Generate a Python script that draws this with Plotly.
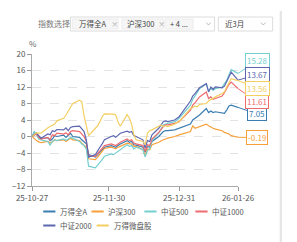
import plotly.graph_objects as go

# ---------------- data ----------------
dates = [
    "2025-10-27", "2025-10-28", "2025-10-29", "2025-10-30", "2025-10-31",
    "2025-11-03", "2025-11-04", "2025-11-05", "2025-11-06", "2025-11-07",
    "2025-11-10", "2025-11-11", "2025-11-12", "2025-11-13", "2025-11-14",
    "2025-11-17", "2025-11-18", "2025-11-19", "2025-11-20", "2025-11-21",
    "2025-11-24", "2025-11-25", "2025-11-26", "2025-11-27", "2025-11-28",
    "2025-12-01", "2025-12-02", "2025-12-03", "2025-12-04", "2025-12-05",
    "2025-12-08", "2025-12-09", "2025-12-10", "2025-12-11", "2025-12-12",
    "2025-12-15", "2025-12-16", "2025-12-17", "2025-12-18", "2025-12-19",
    "2025-12-22", "2025-12-23", "2025-12-24", "2025-12-25", "2025-12-26",
    "2025-12-29", "2025-12-30", "2025-12-31",
    "2026-01-05", "2026-01-06", "2026-01-07", "2026-01-08", "2026-01-09",
    "2026-01-12", "2026-01-13", "2026-01-14", "2026-01-15", "2026-01-16",
    "2026-01-19", "2026-01-20", "2026-01-21", "2026-01-22", "2026-01-23",
    "2026-01-26",
]

wind_all_a = [
    0, 0.3, 0.8, -0.2, -0.5,
    -0.3, -1.0, -0.6, 0.2, 0.0,
    0.3, -0.2, 0.2, 0.8, 0.0,
    -0.2, -0.8, -1.3, -1.8, -4.4,
    -5.0, -4.4, -3.8, -3.2, -2.6,
    -2.2, -2.4, -2.6, -2.2, -1.8,
    -1.0, -1.4, -1.2, -2.0, -2.1,
    -2.6, -3.8, -2.4, -2.6, -1.2,
    0.0, 0.6, 1.2, 1.4, 1.4,
    1.6, 1.8, 2.0,
    3.0, 4.0, 4.4, 4.6, 5.2,
    6.8, 5.8, 6.2, 5.8, 6.0,
    5.6, 5.6, 6.4, 7.4, 7.6,
    7.05,
]

hs300 = [
    0, -0.6, -1.0, -1.3, -1.5,
    -1.2, -1.6, -1.3, -0.8, -1.0,
    -0.8, -1.2, -0.9, -0.4, -0.8,
    -1.0, -1.6, -2.0, -2.6, -5.4,
    -5.6, -5.0, -4.4, -3.6, -2.9,
    -2.6, -2.8, -3.0, -2.6, -2.4,
    -1.6, -1.8, -1.8, -2.4, -2.4,
    -3.2, -4.6, -3.0, -3.2, -2.0,
    -1.4, -1.0, -0.8, -0.6, -0.4,
    0.0, 0.2, 0.4,
    1.2, 2.6, 2.0, 2.2, 2.4,
    3.0, 2.6, 2.2, 2.0, 1.8,
    1.4, 1.0, 0.8, 0.6, 0.2,
    -0.19,
]

csi500 = [
    0, 1.3, 0.4, -0.6, -0.8,
    -1.2, -2.1, -1.2, -0.8, -1.0,
    -0.6, -0.9, -0.6, -0.2, -0.4,
    -1.2, -1.8, -2.2, -3.0, -7.2,
    -7.6, -7.0, -6.4, -5.6, -4.8,
    -4.2, -4.4, -4.0, -3.6, -3.2,
    -2.0, -2.4, -2.2, -3.0, -2.6,
    -3.2, -5.0, -3.4, -3.0, -1.0,
    0.8, 1.8, 2.8, 3.0, 3.2,
    3.6, 4.0, 4.4,
    7.6, 9.0, 9.8, 10.6, 11.6,
    12.8, 11.0, 11.6, 11.2, 11.6,
    12.0, 12.8, 13.6, 15.0, 16.2,
    15.28,
]

csi1000 = [
    0, 0.4, 0.6, -0.2, -0.6,
    -0.2, -0.8, 0.4, 0.2, 0.8,
    0.6, 0.9, 0.4, 1.2, 1.4,
    1.2, 0.6, 0.0, -1.2, -4.6,
    -4.8, -4.2, -3.6, -3.0, -2.2,
    -1.8, -2.0, -2.2, -1.8, -1.4,
    -0.6, -1.0, -0.8, -1.6, -1.8,
    -2.2, -3.6, -2.0, -2.2, -0.6,
    1.0, 1.8, 2.4, 2.8, 2.8,
    3.2, 3.4, 3.6,
    6.4, 7.6, 8.2, 8.8, 9.6,
    10.8, 9.2, 9.6, 9.0, 9.2,
    9.8, 10.6, 11.6, 12.6, 13.2,
    11.61,
]

csi2000 = [
    0, 0.6, 0.8, 0.2, -0.4,
    0.6, 0.4, 1.4, 1.2, 1.7,
    1.6, 2.1, 1.4, 2.2, 2.4,
    2.5, 1.8, 1.2, -0.8, -5.0,
    -4.4, -3.4, -2.6, -1.8, -0.8,
    0.0, 0.2, -0.2, 0.4, 0.8,
    1.3, 1.0, 1.2, 0.2, 0.0,
    -0.8, -2.8, -1.0, -1.2, 0.4,
    2.0, 2.8, 3.6, 3.8, 3.6,
    4.0, 4.4, 4.8,
    8.6, 9.8, 10.4, 11.2, 11.8,
    12.8, 10.8, 12.0, 11.4, 12.0,
    11.8, 12.2, 13.4, 14.6, 15.6,
    13.67,
]

micro_cap = [
    0, 0.4, 0.9, 0.8, 0.8,
    2.1, 2.4, 2.8, 3.0, 3.8,
    4.4, 5.2, 6.2, 7.0, 8.0,
    8.8, 8.4, 5.0, 2.6, 0.2,
    2.0, 2.6, 3.6, 4.8, 5.5,
    5.5, 5.4, 5.2, 3.5, 2.5,
    5.3, 4.5, 3.0, 0.4, -0.8,
    -1.2, -2.0, 0.8, 1.4, 1.6,
    2.6, 2.8, 2.4, 2.6, 2.4,
    3.0, 3.4, 3.6,
    6.8, 7.0, 7.4, 7.2, 7.8,
    8.0, 8.6, 9.0, 9.2, 9.6,
    10.4, 10.8, 12.0, 13.0, 14.0,
    13.56,
]

series_names = ["万得全A", "沪深300", "中证500", "中证1000", "中证2000", "万得微盘股"]
series_values = [wind_all_a, hs300, csi500, csi1000, csi2000, micro_cap]
series_colors = ["#3a7db0", "#f7a03a", "#74cfd1", "#ee6b6e", "#5d66b0", "#f3cf62"]

x_tick_vals = ["2025-10-27", "2025-11-30", "2025-12-31", "2026-01-26"]
x_tick_text = ["25-10-27", "25-11-30", "25-12-31", "26-01-26"]
y_tick_vals = [-12, -8, -4, 0, 4, 8, 12, 16, 20]

# end-label display heights (shifted to avoid overlap), same order as series
label_y = [5.5, -0.25, 18.4, 8.48, 14.96, 11.73]

# ---------------- layout geometry ----------------
W, H = 297, 242
L, R, T, B = 18, 238, 54, 186  # plot area in pixels
Y_MIN, Y_MAX = -12, 20
PX_PER_UNIT = (B - T) / (Y_MAX - Y_MIN)
FONT = "Noto Sans CJK SC, Noto Sans, sans-serif"


def px(xp):
    return (xp - L) / (R - L)


def py(yp):
    return (B - yp) / (B - T)


fig = go.Figure()
for name, vals, col in zip(series_names, series_values, series_colors):
    fig.add_trace(go.Scatter(
        x=dates, y=vals, name=name, mode="lines",
        line=dict(color=col, width=1.2), showlegend=False,
        hoverinfo="skip",
    ))

annotations = []
shapes = []

# end labels
for name, vals, col, ly in zip(series_names, series_values, series_colors, label_y):
    last = vals[-1]
    annotations.append(dict(
        x=dates[-1], y=last, xref="x", yref="y",
        text=f"{last:.2f}", showarrow=True, arrowhead=0, arrowwidth=1,
        arrowcolor=col, ax=19, ay=(last - ly) * PX_PER_UNIT,
        font=dict(size=8, color=col, family=FONT),
        bgcolor="white", bordercolor=col, borderwidth=1, borderpad=1,
    ))

# "%" unit label
annotations.append(dict(x=px(19), y=py(43), xref="paper", yref="paper",
                        text="%", showarrow=False, xanchor="center", yanchor="middle",
                        font=dict(size=8, color="#666", family=FONT)))

# ---------------- header controls ----------------
annotations.append(dict(x=px(22), y=py(24), xref="paper", yref="paper",
                        text="指数选择", showarrow=False, xanchor="left", yanchor="middle",
                        font=dict(size=8, color="#777", family=FONT)))
shapes.append(dict(type="rect", xref="paper", yref="paper",
                   x0=px(59), x1=px(213), y0=py(17), y1=py(31),
                   line=dict(color="#dcdcdc", width=1), fillcolor="white"))
shapes.append(dict(type="rect", xref="paper", yref="paper",
                   x0=px(217), x1=px(275), y0=py(17), y1=py(31),
                   line=dict(color="#dcdcdc", width=1), fillcolor="white"))
for x0, x1 in [(61, 110), (114, 158), (160, 190)]:
    shapes.append(dict(type="rect", xref="paper", yref="paper",
                       x0=px(x0), x1=px(x1), y0=py(19), y1=py(29),
                       line=dict(color="#ececec", width=1), fillcolor="#f6f6f6"))
for txt, xp, col in [("万得全A", 66, "#444"), ("×", 100, "#aaa"),
                     ("沪深300", 117, "#444"), ("×", 150, "#aaa"),
                     ("+ 4 ...", 163, "#444"), ("近3月", 222, "#444")]:
    annotations.append(dict(x=px(xp), y=py(24), xref="paper", yref="paper",
                            text=txt, showarrow=False, xanchor="left", yanchor="middle",
                            font=dict(size=7.5, color=col, family=FONT)))
for cx in (206.5, 265):
    shapes.append(dict(type="path", xref="paper", yref="paper",
                       path=f"M {px(cx-2.5)} {py(22.5)} L {px(cx)} {py(25)} L {px(cx+2.5)} {py(22.5)}",
                       line=dict(color="#aaa", width=0.8)))
# right-side scrollbar strip
shapes.append(dict(type="rect", xref="paper", yref="paper",
                   x0=px(282.5), x1=px(285), y0=py(11), y1=py(242),
                   line=dict(width=0), fillcolor="#e6e6e6"))

# ---------------- legend (manual) ----------------
legend_pos = [(30, 211.5), (81.5, 211.5), (138, 211.5), (192.5, 211.5),
              (30, 225.5), (87, 225.5)]
for (lx, ly), name, col in zip(legend_pos, series_names, series_colors):
    shapes.append(dict(type="line", xref="paper", yref="paper",
                       x0=px(lx), x1=px(lx + 13), y0=py(ly), y1=py(ly),
                       line=dict(color=col, width=2)))
    annotations.append(dict(x=px(lx + 16), y=py(ly), xref="paper", yref="paper",
                            text=name, showarrow=False, xanchor="left", yanchor="middle",
                            font=dict(size=7.5, color="#555", family=FONT)))

fig.update_layout(
    width=W, height=H,
    margin=dict(l=L, r=W - R, t=T, b=H - B, pad=0),
    paper_bgcolor="white", plot_bgcolor="white",
    showlegend=False,
    font=dict(family=FONT, size=8, color="#555"),
    annotations=annotations, shapes=shapes,
    xaxis=dict(type="date", range=[dates[0], dates[-1]],
               tickvals=x_tick_vals, ticktext=x_tick_text,
               ticks="outside", ticklen=4, tickcolor="#999",
               showline=True, linecolor="#aaa", linewidth=1,
               showgrid=False, zeroline=False,
               tickfont=dict(size=8, color="#555", family=FONT)),
    yaxis=dict(range=[Y_MIN, Y_MAX], tickvals=y_tick_vals,
               ticks="outside", ticklen=4, tickcolor="#999",
               showline=True, linecolor="#aaa", linewidth=1,
               showgrid=True, gridcolor="#e3e3e3", griddash="dash", gridwidth=1,
               zeroline=False,
               tickfont=dict(size=8, color="#555", family=FONT)),
)

fig.write_html("out.html")
